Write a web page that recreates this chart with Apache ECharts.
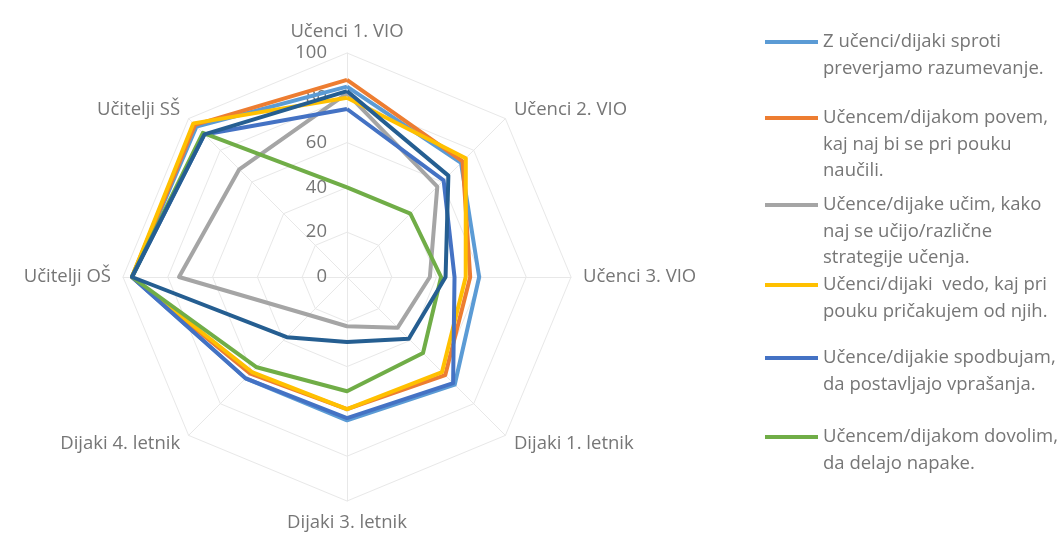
<!DOCTYPE html>
<html>
<head>
<meta charset="utf-8">
<script src="https://cdn.jsdelivr.net/npm/echarts@6/dist/echarts.min.js"></script>
<style>
html,body{margin:0;padding:0;background:#fff;}
#chart{width:1062px;height:539px;}
</style>
</head>
<body>
<div id="chart"></div>
<script>
// Axes of the radar, clockwise from the top
var categories = ['Učenci 1. VIO', 'Učenci 2. VIO', 'Učenci 3. VIO', 'Dijaki 1. letnik', 'Dijaki 3. letnik', 'Dijaki 4. letnik', 'Učitelji OŠ', 'Učitelji SŠ'];
var tickLabels = [0, 20, 40, 60, 80, 100];

var seriesNames = [
  'Z učenci/dijaki sproti\npreverjamo razumevanje.',
  'Učencem/dijakom povem,\nkaj naj bi se pri pouku\nnaučili.',
  'Učence/dijake učim, kako\nnaj se učijo/različne\nstrategije učenja.',
  'Učenci/dijaki  vedo, kaj pri\npouku pričakujem od njih.',
  'Učence/dijakie spodbujam,\nda postavljajo vprašanja.',
  'Učencem/dijakom dovolim,\nda delajo napake.',
  'Serija 7'
];

var preverjamo = [85, 72, 59, 68, 64, 64, 96, 95];
var povem      = [88, 73, 55, 62, 59, 61, 96, 96];
var ucim       = [82, 57, 37, 32, 22, 24, 75, 68];
var vedo       = [80, 75, 53, 60, 59, 60, 96, 97];
var spodbujam  = [75, 61, 48, 67, 63, 64, 96, 90];
var napake     = [40, 40, 42, 48, 51, 57, 96, 91];
var serija7    = [83, 64, 44, 39, 29, 38, 96, 90];

var colors = ['#5B9BD5', '#ED7D31', '#A5A5A5', '#FFC000', '#4472C4', '#70AD47', '#255E91'];
var allValues = [preverjamo, povem, ucim, vedo, spodbujam, napake, serija7];

// ECharts lays out radar indicators counter-clockwise; reorder to draw clockwise like the original
var order = [0, 7, 6, 5, 4, 3, 2, 1];
function reorder(arr) { return order.map(function (i) { return arr[i]; }); }

var FONT = 'Open Sans';
var TXT = '#767676';
var FS = 18.5;
var L = 26.5;

function legendFor(idx, top) {
  var n = seriesNames[idx].split('\n').length;
  var pre = new Array(n).join('\n'); // (n-1) empty lines so the icon lines up with the first text line
  return {
    data: [seriesNames[idx]],
    orient: 'vertical',
    left: 765,
    top: top,
    padding: 0,
    itemWidth: 53,
    itemHeight: 4,
    icon: 'rect',
    selectedMode: false,
    formatter: function (name) { return pre + name; },
    textStyle: {
      fontFamily: FONT,
      fontSize: FS,
      color: TXT,
      lineHeight: L
    }
  };
}

var option = {
  backgroundColor: '#ffffff',
  animation: false,
  color: colors,
  legend: [
    legendFor(0, 42 - 1.5 * L),
    legendFor(1, 118 - 2.5 * L),
    legendFor(2, 205 - 2.5 * L),
    legendFor(3, 285 - 1.5 * L),
    legendFor(4, 358 - 1.5 * L),
    legendFor(5, 437 - 1.5 * L)
  ],
  radar: {
    center: [347, 277],
    radius: 224,
    startAngle: 90,
    shape: 'polygon',
    splitNumber: 5,
    indicator: reorder(categories).map(function (c) { return { name: c, min: tickLabels[0], max: tickLabels[tickLabels.length - 1] }; }),
    nameGap: 12,
    axisName: { color: TXT, fontFamily: FONT, fontSize: FS },
    axisLine: { lineStyle: { color: '#e8e8e8', width: 1 } },
    splitLine: { lineStyle: { color: '#e8e8e8', width: 1 } },
    splitArea: { show: false }
  },
  grid: { left: 347, top: 53, width: 10, height: 224, show: false },
  xAxis: { type: 'value', show: false },
  yAxis: {
    type: 'value',
    min: tickLabels[0],
    max: tickLabels[tickLabels.length - 1],
    interval: tickLabels[1] - tickLabels[0],
    axisLine: { show: false },
    axisTick: { show: false },
    splitLine: { show: false },
    axisLabel: { margin: 20, color: TXT, fontFamily: FONT, fontSize: FS }
  },
  series: [{
    type: 'radar',
    symbol: 'none',
    z: 3,
    data: allValues.map(function (vals, i) {
      return {
        name: seriesNames[i],
        value: reorder(vals),
        lineStyle: { color: colors[i], width: 4 },
        itemStyle: { color: colors[i] }
      };
    })
  }]
};

var chart = echarts.init(document.getElementById('chart'), null, { renderer: 'canvas' });
chart.setOption(option);
</script>
</body>
</html>
